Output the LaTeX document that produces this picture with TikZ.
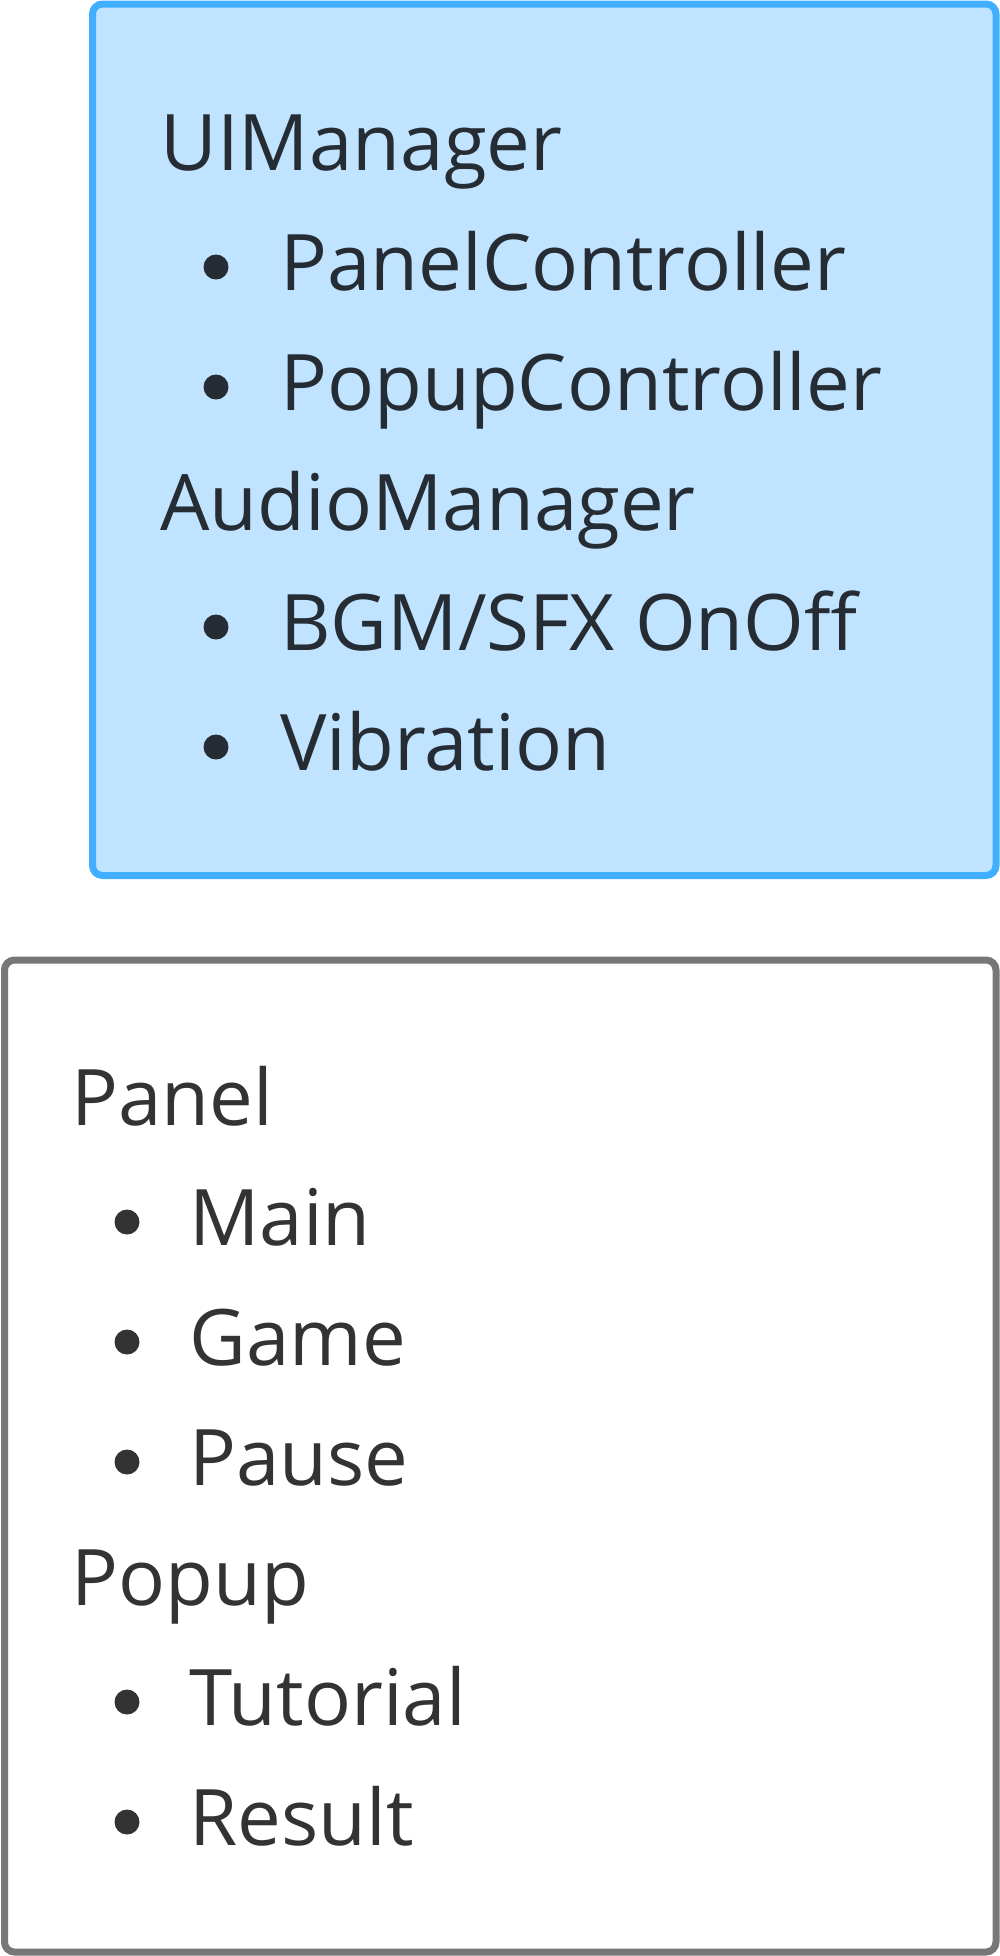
\documentclass[tikz,border=0pt]{standalone}
\usepackage{fontspec}
\setmainfont{Open Sans}
\definecolor{boxblue}{HTML}{42AEFF}
\definecolor{boxfill}{HTML}{C0E4FF}
\definecolor{boxgray}{HTML}{777777}
\definecolor{inkdark}{HTML}{262C33}
\definecolor{inkgray}{HTML}{333333}

\begin{document}
\begin{tikzpicture}[x=0.5pt, y=-0.5pt,
  item/.style={anchor=base west, inner sep=0pt, font=\fontsize{39}{47}\selectfont},
  frame/.style={line width=3.5pt, rounded corners=5pt}]
	\useasboundingbox (0,0) rectangle (1000,1956);
	% managers box
	\draw[frame, draw=boxblue, fill=boxfill] (92.5,4) rectangle (996,875.5);
	\node[item, text=inkdark] (uimgr) at (160,170) {UIManager};
	\node[item, text=inkdark] (panelctl) at (280,290) {PanelController};
	\node[item, text=inkdark] (popupctl) at (280,410) {PopupController};
	\node[item, text=inkdark] (audiomgr) at (160,530) {AudioManager};
	\node[item, text=inkdark] (bgmsfx) at (280,650) {BGM/SFX OnOff};
	\node[item, text=inkdark] (vibration) at (280,770) {Vibration};
	\foreach \y in {290,410,650,770}
	  \fill[inkdark] (216,\y-23) circle (12.5);
	% ui list box
	\draw[frame, draw=boxgray, fill=white] (4.5,960) rectangle (996,1952);
	\node[item, text=inkgray] (panel) at (71,1125) {Panel};
	\node[item, text=inkgray] (main) at (189,1245) {Main};
	\node[item, text=inkgray] (game) at (189,1365) {Game};
	\node[item, text=inkgray] (pause) at (189,1485) {Pause};
	\node[item, text=inkgray] (popup) at (71,1605) {Popup};
	\node[item, text=inkgray] (tutorial) at (189,1725) {Tutorial};
	\node[item, text=inkgray] (result) at (189,1845) {Result};
	\foreach \y in {1245,1365,1485,1725,1845}
	  \fill[inkgray] (127,\y-23) circle (12.5);
\end{tikzpicture}
\end{document}
